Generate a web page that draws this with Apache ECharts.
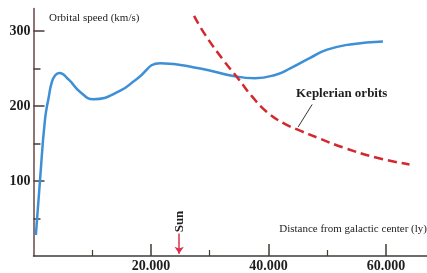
<!DOCTYPE html>
<html>
<head>
<meta charset="utf-8">
<script src="https://cdn.jsdelivr.net/npm/echarts@6/dist/echarts.min.js"></script>
<style>
  html, body { margin: 0; padding: 0; background: #ffffff; }
  #chart { width: 427px; height: 273px; }
</style>
</head>
<body>
<div id="chart"></div>
<script>
// observed rotation curve (distance ly, km/s)
var observed = [
  [400, 28], [1100, 100], [1960, 182], [2600, 212], [3100, 231], [3700, 241],
  [4400, 244], [6000, 235], [7900, 219], [10200, 209], [14700, 220],
  [17600, 236], [21600, 257], [28400, 250], [34000, 240], [37700, 237],
  [41400, 242], [43700, 250], [47100, 264], [50000, 275], [53900, 282],
  [59500, 286]
];
// keplerian prediction
var kepler = [
  [27340, 320], [29220, 295], [32330, 261], [34890, 236], [37170, 213],
  [39730, 192], [42560, 177], [45400, 167], [48250, 158], [52780, 144.5],
  [58470, 131], [64020, 122]
];
var xMajor = [20000, 40000, 60000];
var xMinor = [10000, 30000, 50000];
var yMajor = [100, 200, 300];
var yMinor = [50, 150, 250];
var sunPos = 24800;
var sunArrow = [30, 3];
var leader = [[47450, 202], [45060, 172]];

var serif = '"Liberation Serif", "DejaVu Serif", serif';
var chart = echarts.init(document.getElementById('chart'));

var option = {
  animation: false,
  backgroundColor: '#ffffff',
  grid: { left: 33.5, right: 0, top: 8.4, bottom: 15.7 },
  xAxis: [{
    type: 'value', min: 0, max: 67000,
    splitLine: { show: false },
    axisLine: { lineStyle: { color: '#3e3e36', width: 1.5 } },
    axisTick: { customValues: xMajor, inside: true, length: 12, lineStyle: { color: '#3e3e36', width: 1.5 } },
    axisLabel: {
      customValues: xMajor, margin: 3, color: '#1e1e1e',
      fontFamily: serif, fontWeight: 'bold', fontSize: 14,
      formatter: function (v) { return (v / 1000) + '.000'; }
    }
  }, {
    type: 'value', min: 0, max: 67000, position: 'bottom',
    splitLine: { show: false },
    axisLine: { show: false },
    axisTick: { customValues: xMinor, inside: true, length: 6, lineStyle: { color: '#3e3e36', width: 1.2 } },
    axisLabel: { show: false }
  }],
  yAxis: [{
    type: 'value', min: 0, max: 330,
    splitLine: { show: false },
    axisLine: { show: true, lineStyle: { color: '#6a4848', width: 1.5 } },
    axisTick: { show: true, customValues: yMajor, inside: true, length: 11, lineStyle: { color: '#4a3a3a', width: 1.5 } },
    axisLabel: {
      customValues: yMajor, margin: 3, color: '#1e1e1e',
      fontFamily: serif, fontWeight: 'bold', fontSize: 14
    }
  }, {
    type: 'value', min: 0, max: 330, position: 'left',
    splitLine: { show: false },
    axisLine: { show: false },
    axisTick: { show: true, customValues: yMinor, inside: true, length: 7, lineStyle: { color: '#4a3a3a', width: 1.5 } },
    axisLabel: { show: false }
  }],
  series: [{
    type: 'line',
    data: observed,
    smooth: 0.5,
    showSymbol: false,
    lineStyle: { color: '#3d8fd6', width: 2.5 },
    itemStyle: { color: '#3d8fd6' }
  }, {
    type: 'line',
    data: kepler,
    smooth: 0.5,
    showSymbol: false,
    lineStyle: { color: '#d3282e', width: 2.5, type: [9, 5] },
    itemStyle: { color: '#d3282e' },
    markLine: {
      silent: true,
      animation: false,
      label: { show: false },
      data: [
        [{ coord: [sunPos, sunArrow[0]], symbol: 'none' },
         { coord: [sunPos, sunArrow[1]], symbol: 'arrow', symbolSize: 7,
           lineStyle: { color: '#d9304a', width: 1.5, type: 'solid' } }],
        [{ coord: leader[0], symbol: 'none' },
         { coord: leader[1], symbol: 'none',
           lineStyle: { color: '#333333', width: 1, type: 'solid' } }]
      ]
    }
  }],
  graphic: [
    { type: 'text', x: 49, y: 18, style: { text: 'Orbital speed (km/s)', font: '11px ' + serif, fill: '#222', textVerticalAlign: 'middle' } },
    { type: 'text', x: 427, y: 229.5, style: { text: 'Distance from galactic center (ly)', font: '11px ' + serif, fill: '#222', textAlign: 'right', textVerticalAlign: 'middle' } },
    { type: 'text', x: 296, y: 93.5, style: { text: 'Keplerian orbits', font: 'bold 13px ' + serif, fill: '#1e1e1e', textVerticalAlign: 'middle' } },
    { type: 'text', x: 179.3, y: 221.5, rotation: Math.PI / 2, style: { text: 'Sun', font: 'bold 13px ' + serif, fill: '#1e1e1e', textAlign: 'center', textVerticalAlign: 'middle' } }
  ]
};
chart.setOption(option);
</script>
</body>
</html>
